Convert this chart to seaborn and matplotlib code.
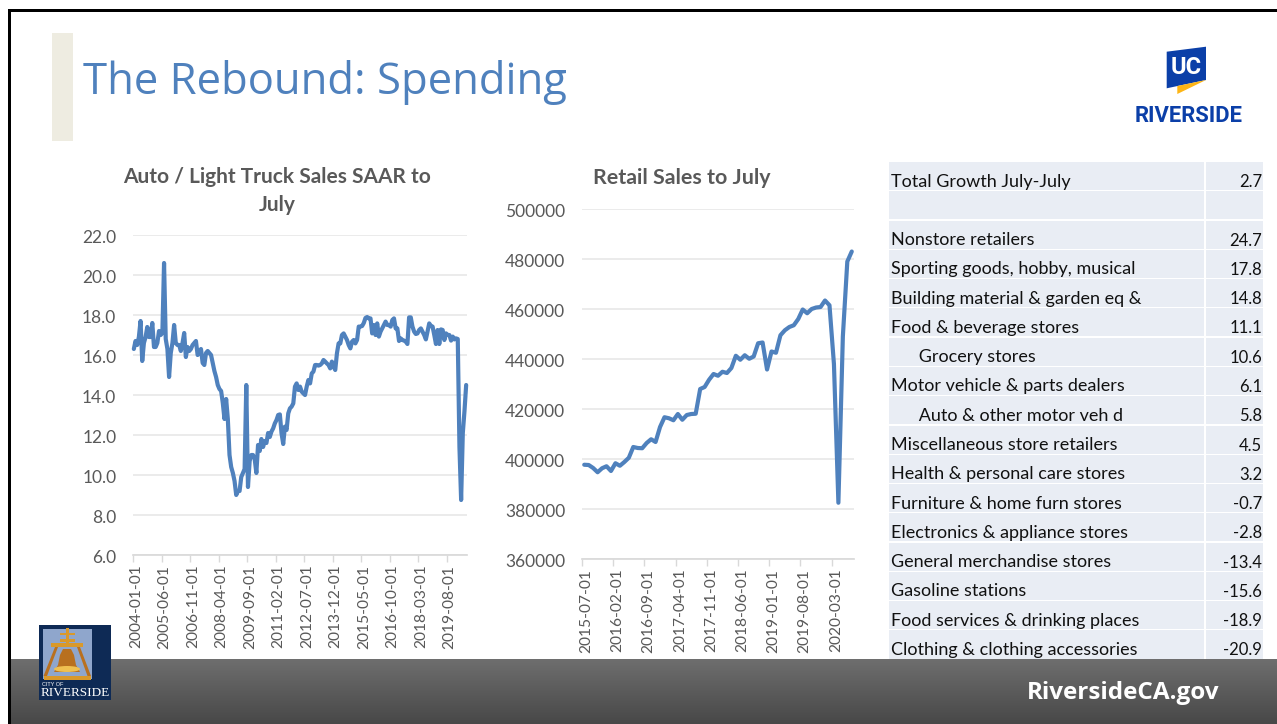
import numpy as np
import pandas as pd
import seaborn as sns
import matplotlib.pyplot as plt
from matplotlib.patches import Rectangle, Polygon, Ellipse
from matplotlib.transforms import ScaledTranslation

# values
auto_sales = [
    16.3, 16.7, 16.5, 16.9, 17.7, 15.7, 16.6, 16.9, 17.4, 16.9, 16.9, 17.6,
    16.4, 16.4, 16.6, 17.2, 17.0, 17.1, 20.6, 16.8, 16.3, 14.9, 16.1, 16.6,
    17.5, 16.6, 16.5, 16.5, 16.2, 16.6, 17.1, 15.9, 16.4, 16.2, 16.3, 16.5,
    16.6, 16.7, 16.0, 16.1, 16.3, 15.6, 15.5, 16.1, 16.2, 16.1, 16.0, 15.6,
    15.2, 14.9, 14.5, 14.3, 14.2, 13.6, 12.8, 13.8, 12.8, 11.0, 10.4, 10.1,
    9.7, 9.0, 9.2, 9.2, 9.9, 10.1, 10.3, 14.5, 9.4, 10.7, 11.0, 11.0,
    10.8, 10.1, 11.5, 11.2, 11.8, 11.4, 11.7, 11.6, 12.1, 11.9, 12.17, 12.33,
    12.58, 12.75, 13.0, 13.03, 12.08, 11.55, 12.42, 12.25, 13.08, 13.33, 13.42, 13.58,
    14.42, 14.58, 14.25, 14.42, 14.17, 14.08, 14.0, 14.42, 14.75, 14.58, 15.08, 15.17,
    15.5, 15.5, 15.47, 15.5, 15.58, 15.75, 15.67, 15.58, 15.5, 15.33, 15.67, 15.42,
    15.25, 16.08, 16.58, 16.58, 17.0, 17.08, 16.92, 16.75, 16.5, 16.33, 16.67, 16.75,
    16.58, 16.75, 17.42, 17.42, 17.45, 17.6, 17.85, 17.9, 17.83, 17.83, 17.08, 17.5,
    17.0, 17.58, 16.92, 17.17, 17.33, 17.5, 17.67, 17.5, 17.5, 17.42, 17.75, 17.83,
    17.33, 17.33, 16.7, 16.83, 16.75, 16.72, 16.67, 16.55, 17.88, 17.88, 17.42, 17.17,
    17.05, 17.08, 17.25, 17.33, 17.17, 17.0, 16.78, 17.17, 17.58, 17.45, 17.42, 17.0,
    16.55, 17.25, 16.55, 17.28, 17.25, 16.75, 17.08, 17.0, 17.0, 16.72, 16.92, 16.78,
    16.83, 16.8, 11.4, 8.75, 12.1, 13.2, 14.5,
]
auto_ticks = ['2004-01-01', '2005-06-01', '2006-11-01', '2008-04-01', '2009-09-01', '2011-02-01',
              '2012-07-01', '2013-12-01', '2015-05-01', '2016-10-01', '2018-03-01', '2019-08-01']

retail_sales = [
    397700, 397600, 396400, 394700, 396300, 397100, 395200, 398300, 397300, 398800,
    400500, 404800, 404400, 404300, 406400, 407900, 406800, 412800, 416700, 416300,
    415500, 418000, 415700, 417600, 418000, 418100, 428000, 428800, 431700, 434000,
    433300, 434900, 434400, 436400, 441300, 439700, 441500, 440100, 441000, 446300,
    446600, 435800, 443000, 442500, 449500, 451500, 452800, 453500, 456000, 459800,
    458300, 460000, 460600, 460800, 463400, 461500, 438000, 382500, 449000, 479000,
    483000,
]
retail_ticks = ['2015-07-01', '2016-02-01', '2016-09-01', '2017-04-01', '2017-11-01',
                '2018-06-01', '2019-01-01', '2019-08-01', '2020-03-01']

table_labels = ['Total Growth July-July', '', 'Nonstore retailers', 'Sporting goods, hobby, musical',
                'Building material & garden eq &', 'Food & beverage stores', '      Grocery stores',
                'Motor vehicle & parts dealers', '      Auto & other motor veh d',
                'Miscellaneous store retailers', 'Health & personal care stores',
                'Furniture & home furn stores', 'Electronics & appliance stores',
                'General merchandise stores', 'Gasoline stations', 'Food services & drinking places',
                'Clothing & clothing accessories']
table_values = ['2.7', '', '24.7', '17.8', '14.8', '11.1', '10.6', '6.1', '5.8', '4.5', '3.2',
                '-0.7', '-2.8', '-13.4', '-15.6', '-18.9', '-20.9']

W, H = 1277, 724
BLUE = '#4F81BD'
GREY = '#595959'

sns.set_theme(style='white')
plt.rcParams['font.family'] = ['Lato', 'DejaVu Sans']

fig = plt.figure(figsize=(W / 100, H / 100), dpi=100, facecolor='white')

# slide furniture, drawn in pixel coordinates
bg = fig.add_axes([0, 0, 1, 1])
gradient = np.linspace(0, 1, 65).reshape(-1, 1)
bg.imshow(gradient, extent=(10, W, H, 659), cmap=sns.blend_palette(['#6E6E6E', '#484848'], as_cmap=True),
          aspect='auto', zorder=3)
bg.set_xlim(0, W)
bg.set_ylim(H, 0)
bg.axis('off')
bg.add_patch(Rectangle((8, 9), W, 2.5, color='black', lw=0, zorder=6))
bg.add_patch(Rectangle((8, 9), 2.5, H, color='black', lw=0, zorder=6))
bg.add_patch(Rectangle((52, 33), 21, 108, color='#EEECE1', lw=0))
bg.text(83, 94, 'The Rebound: Spending', color=BLUE, fontsize=31.4, family='Open Sans', va='baseline', ha='left')

# UCR logo
bg.add_patch(Polygon([(1166.7, 51.7), (1206, 46.7), (1206, 80), (1166.7, 88.3)], color='#0B3FA8', lw=0))
bg.add_patch(Polygon([(1177.3, 86), (1206, 80), (1177.3, 94)], color='#FDB515', lw=0))
bg.text(1186, 68, 'UC', color='white', fontsize=17, fontweight='bold', ha='center', va='center', family='Roboto')
bg.text(1188.5, 115.5, 'RIVERSIDE', color='#0B3FA8', fontsize=15.8, fontweight='bold', ha='center', va='center',
        family='Roboto')

# city logo
bg.add_patch(Rectangle((39, 625), 72, 75, color='#0E2A55', lw=0, zorder=4))
bg.add_patch(Rectangle((42.7, 629), 49, 50, color='#8FA6CC', lw=0, zorder=4))
gold = '#D9992B'
for box in [(65.7, 628, 3.3, 16), (60, 633, 14.5, 2), (60, 639, 14.5, 2.5), (51, 643, 32, 4), (43.5, 676, 47.5, 3.5)]:
    bg.add_patch(Rectangle(box[:2], box[2], box[3], color=gold, lw=0, zorder=5))
bg.add_patch(Polygon([(55, 647), (58, 647), (47, 676), (43.5, 676)], color='#B9701F', lw=0, zorder=5))
bg.add_patch(Polygon([(77, 647), (80, 647), (91, 676), (87.5, 676)], color='#B9701F', lw=0, zorder=5))
bg.add_patch(Polygon([(63, 649), (71, 649), (74, 655), (76, 665), (80, 672), (54, 672), (58, 665), (60, 655)],
                     color='#B8701F', lw=0, zorder=5))
bg.add_patch(Ellipse((67, 669), 26, 6, color='#EFC050', lw=0, zorder=5))
bg.text(42, 684, 'CITY OF', color='white', fontsize=4, ha='left', va='center', zorder=5, family='Liberation Sans')
bg.text(75, 692.5, 'RIVERSIDE', color='white', fontsize=9.5, ha='center', va='center', zorder=5, family='Liberation Serif')

bg.text(1123, 693, 'RiversideCA.gov', color='white', fontsize=17.5, fontweight='bold', family='Open Sans',
        ha='center', va='center', zorder=5)

# table
row_h = 29.28
for i, (label, value) in enumerate(zip(table_labels, table_values)):
    top = 162 + i * row_h
    bg.add_patch(Rectangle((889, top), 315, row_h - 1.2, color='#E9EDF4', lw=0))
    bg.add_patch(Rectangle((1206, top), 57, row_h - 1.2, color='#E9EDF4', lw=0))
    bg.text(891, top + 19.5, label, color='#111111', fontsize=13, ha='left', va='center')
    bg.text(1262, top + 20, value, color='#111111', fontsize=12, ha='right', va='center')


def line_chart(box, values, start, ticks, ylim, step, ytick_fmt, title, title_x, title_y, title_size):
    left, right, top, bottom = box
    ax = fig.add_axes([left / W, 1 - bottom / H, (right - left) / W, (bottom - top) / H])
    ax.patch.set_alpha(0)
    months = pd.date_range(start, periods=len(values), freq='MS').strftime('%Y-%m-%d').tolist()
    df = pd.DataFrame({'month': months, 'pos': np.arange(len(values)), 'value': values})
    sns.lineplot(data=df, x='pos', y='value', color=BLUE, linewidth=3.0, ax=ax, errorbar=None,
                 solid_joinstyle='round', solid_capstyle='round', clip_on=False)
    ax.set_xlim(-0.5, len(values) - 0.5)
    ax.set_ylim(*ylim)
    ax.set_xlabel('')
    ax.set_ylabel('')
    ax.set_yticks(np.arange(ylim[0], ylim[1] + step / 2, step))
    ax.set_yticklabels([ytick_fmt.format(v) for v in ax.get_yticks()])
    tick_pos = [months.index(t) for t in ticks]
    ax.set_xticks(tick_pos)
    ax.set_xticklabels(ticks, rotation=90)
    ax.set_xticks([p - 0.5 for p in tick_pos], minor=True)
    ax.tick_params(axis='x', which='major', length=0, pad=7, labelsize=11.2, labelcolor=GREY)
    ax.tick_params(axis='x', which='minor', length=5, width=1, color='#D9D9D9', bottom=True)
    ax.tick_params(axis='y', length=0, pad=12, labelsize=12.5, labelcolor=GREY)
    ax.grid(axis='y', color='#E6E6E6', linewidth=1.1)
    ax.set_axisbelow(True)
    sns.despine(ax=ax, left=True)
    ax.spines['bottom'].set_color('#D9D9D9')
    # nudge the labels the way the slide has them
    for lbl in ax.get_xticklabels():
        lbl.set_transform(lbl.get_transform() + ScaledTranslation(2 / 100, 0, fig.dpi_scale_trans))
    for lbl in ax.get_yticklabels():
        lbl.set_transform(lbl.get_transform() + ScaledTranslation(0, -1.5 / 100, fig.dpi_scale_trans))
    bg.text(title_x, title_y, title, color=GREY, fontsize=title_size, fontweight='bold',
            ha='center', va='center', linespacing=1.5)
    return ax


line_chart((133, 467, 235, 555), auto_sales, '2004-01-01', auto_ticks, (6, 22), 2, '{:.1f}',
           'Auto / Light Truck Sales SAAR to\nJuly', 277, 191, 15)
line_chart((582, 854, 209, 559), retail_sales, '2015-07-01', retail_ticks, (360000, 500000), 20000, '{:.0f}',
           'Retail Sales to July', 682, 178, 15.4)

fig.savefig('out.png', dpi=100)
